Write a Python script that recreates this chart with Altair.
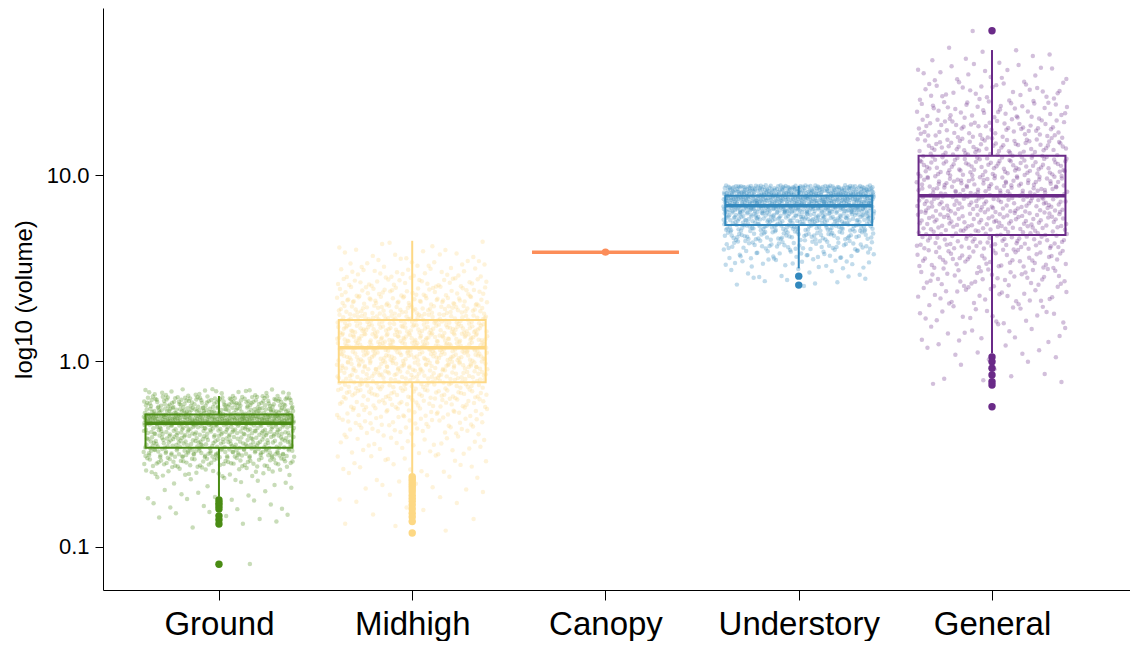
import altair as alt
import pandas as pd

# ---------------- data ----------------
categories = ["Ground", "Midhigh", "Canopy", "Understory", "General"]
colors = ["#4a8c14", "#fdd884", "#fc8d59", "#3288bd", "#6a2a88"]

# box-plot summaries (volume)
whisker_low = [0.186, 0.249, 3.85, 3.15, 1.10]
q1 = [0.342, 0.768, 3.85, 5.38, 4.76]
median = [0.462, 1.18, 3.85, 6.84, 7.74]
q3 = [0.516, 1.66, 3.85, 7.74, 12.7]
whisker_high = [0.648, 4.43, 3.85, 8.73, 47.0]

# outliers (volume)
ground_outliers = [0.179, 0.172, 0.166, 0.160, 0.147, 0.140, 0.133, 0.0807]
midhigh_outliers = [0.239, 0.232, 0.226, 0.219, 0.212, 0.205, 0.198, 0.190,
                    0.183, 0.176, 0.168, 0.160, 0.152, 0.145, 0.137, 0.119]
canopy_outliers = [3.85]
understory_outliers = [2.86, 2.56]
general_outliers = [59.7, 1.05, 0.99, 0.914, 0.841, 0.774, 0.743, 0.567]

# jittered raw observations, estimated as counts per log10(volume) band: (low, high, count)
ground_cloud = [(-0.19, -0.15, 25), (-0.25, -0.19, 110), (-0.29, -0.25, 95),
                (-0.34, -0.29, 225), (-0.40, -0.34, 110), (-0.47, -0.40, 115),
                (-0.52, -0.47, 85), (-0.57, -0.52, 55), (-0.62, -0.57, 25),
                (-0.68, -0.62, 10), (-0.74, -0.68, 8), (-0.80, -0.74, 10),
                (-0.86, -0.80, 6), (-0.90, -0.86, 3)]
midhigh_cloud = [(0.60, 0.65, 5), (0.55, 0.60, 10), (0.50, 0.55, 15), (0.45, 0.50, 20),
                 (0.40, 0.45, 28), (0.35, 0.40, 35), (0.30, 0.35, 45), (0.25, 0.30, 55),
                 (0.20, 0.25, 65), (0.15, 0.20, 72), (0.10, 0.15, 78), (0.05, 0.10, 78),
                 (0.00, 0.05, 72), (-0.05, 0.00, 68), (-0.10, -0.05, 62), (-0.15, -0.10, 52),
                 (-0.20, -0.15, 45), (-0.25, -0.20, 38), (-0.30, -0.25, 30), (-0.35, -0.30, 25),
                 (-0.40, -0.35, 20), (-0.45, -0.40, 15), (-0.50, -0.45, 12), (-0.55, -0.50, 10),
                 (-0.60, -0.55, 8), (-0.65, -0.60, 6), (-0.70, -0.65, 5), (-0.75, -0.70, 4),
                 (-0.80, -0.75, 3), (-0.85, -0.80, 3), (-0.90, -0.85, 2), (-0.95, -0.90, 1)]
canopy_cloud = []
understory_cloud = [(0.90, 0.945, 180), (0.85, 0.90, 230), (0.80, 0.85, 170), (0.75, 0.80, 120),
                    (0.70, 0.75, 90), (0.65, 0.70, 65), (0.60, 0.65, 45), (0.55, 0.60, 30),
                    (0.50, 0.55, 18), (0.45, 0.50, 10), (0.40, 0.45, 8)]
general_cloud = [(1.60, 1.69, 8), (1.50, 1.60, 18), (1.40, 1.50, 30),
                 (1.30, 1.40, 42), (1.20, 1.30, 56), (1.10, 1.20, 70), (1.00, 1.10, 82),
                 (0.90, 1.00, 90), (0.80, 0.90, 92), (0.70, 0.80, 84), (0.60, 0.70, 70),
                 (0.50, 0.60, 52), (0.40, 0.50, 38), (0.30, 0.40, 28), (0.20, 0.30, 20),
                 (0.10, 0.20, 14), (0.00, 0.10, 9), (-0.10, 0.00, 6), (-0.14, -0.10, 3)]

# a few individually placed observations: (category index, jitter offset, volume)
single_points = [(0, 0.16, 0.081), (4, -0.10, 59.5)]

y_ticks = [0.1, 1.0, 10.0]

# ---------------- tables ----------------
clouds = [ground_cloud, midhigh_cloud, canopy_cloud, understory_cloud, general_cloud]
outliers = [ground_outliers, midhigh_outliers, canopy_outliers, understory_outliers, general_outliers]

HALF = 0.38      # half box width, in category steps
JIT = 0.39       # half jitter width


def radical_inverse(i, base):
    f, r = 1.0, 0.0
    while i > 0:
        f /= base
        r += f * (i % base)
        i //= base
    return r


pts = []
for ci, (cat, bins) in enumerate(zip(categories, clouds)):
    k = 7 + 97 * ci
    for lo, hi, n in bins:
        for j in range(n):
            k += 1
            fx = radical_inverse(k, 3)
            fy = radical_inverse(k, 2)
            pts.append({"category": cat, "pos": ci + (2 * fx - 1) * JIT,
                        "volume": 10 ** (lo + fy * (hi - lo))})
for ci, off, v in single_points:
    pts.append({"category": categories[ci], "pos": ci + off, "volume": v})
pts = pd.DataFrame(pts)

box = pd.DataFrame({
    "category": categories,
    "pos": list(range(len(categories))),
    "left": [i - HALF for i in range(len(categories))],
    "right": [i + HALF for i in range(len(categories))],
    "lo": whisker_low, "q1": q1, "median": median, "q3": q3, "hi": whisker_high,
})

out = pd.DataFrame([{"category": c, "pos": i, "volume": v}
                    for i, (c, vals) in enumerate(zip(categories, outliers)) for v in vals])

# ---------------- chart ----------------
color = alt.Color("category:N", scale=alt.Scale(domain=categories, range=colors), legend=None)
label_expr = "[" + ",".join(f"'{c}'" for c in categories) + "][datum.value]"

x_scale = alt.Scale(domain=[-0.6, 4.714], nice=False, zero=False)
y_scale = alt.Scale(type="log", domain=[0.0587, 79.1], nice=False)

x_axis = alt.Axis(values=list(range(len(categories))), labelExpr=label_expr, title=None,
                  grid=False, labelFontSize=33, labelPadding=8, tickSize=10,
                  domainColor="#000000", tickColor="#000000", labelColor="#000000",
                  labelFont="Liberation Sans")
y_axis = alt.Axis(values=y_ticks, format=".1f", title="log10 (volume)", grid=False,
                  labelFontSize=22, tickSize=8, labelPadding=6, titleFontSize=24,
                  titleFontWeight="normal", titlePadding=10, domainColor="#000000",
                  tickColor="#000000", labelColor="#000000", titleColor="#000000",
                  labelFont="Liberation Sans", titleFont="Liberation Sans")

points = alt.Chart(pts).mark_circle(size=20, opacity=0.3).encode(
    x=alt.X("pos:Q", scale=x_scale, axis=x_axis),
    y=alt.Y("volume:Q", scale=y_scale, axis=y_axis),
    color=color,
)

base = alt.Chart(box)
upper_whisker = base.mark_rule(strokeWidth=2).encode(
    x="pos:Q", y="q3:Q", y2="hi:Q", color=color)
lower_whisker = base.mark_rule(strokeWidth=2).encode(
    x="pos:Q", y="lo:Q", y2="q1:Q", color=color)
rect = base.mark_rect(filled=False, strokeWidth=2).encode(
    x="left:Q", x2="right:Q", y="q1:Q", y2="q3:Q", stroke=color)
med = base.mark_rule(strokeWidth=3.5).encode(
    x="left:Q", x2="right:Q", y="median:Q", color=color)

out_pts = alt.Chart(out).mark_circle(size=55, opacity=1).encode(
    x="pos:Q", y="volume:Q", color=color)

chart = alt.layer(points, upper_whisker, lower_whisker, rect, med, out_pts).properties(
    width=1027, height=582,
    padding={"left": 4, "top": 0, "right": 0, "bottom": 0},
).configure(font="Liberation Sans").configure_view(stroke=None)

chart.save("out.html", embed_options={"renderer": "svg", "actions": False})
